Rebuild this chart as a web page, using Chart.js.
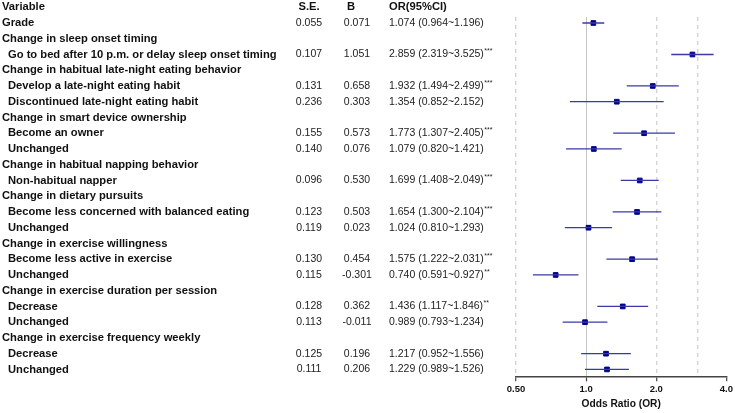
<!DOCTYPE html>
<html>
<head>
<meta charset="utf-8">
<script src="https://cdn.jsdelivr.net/npm/chart.js@4.4.1/dist/chart.umd.min.js"></script>
<style>
  html, body { margin: 0; padding: 0; background: #fff; }
</style>
</head>
<body>
<canvas id="forest" width="735" height="413"></canvas>
<script>
// table rows, top to bottom (header row drawn separately)
var rowLabels = [
  'Grade',
  'Change in sleep onset timing',
  'Go to bed after 10 p.m. or delay sleep onset timing',
  'Change in habitual late-night eating behavior',
  'Develop a late-night eating habit',
  'Discontinued late-night eating habit',
  'Change in smart device ownership',
  'Become an owner',
  'Unchanged',
  'Change in habitual napping behavior',
  'Non-habitual napper',
  'Change in dietary pursuits',
  'Become less concerned with balanced eating',
  'Unchanged',
  'Change in exercise willingness',
  'Become less active in exercise',
  'Unchanged',
  'Change in exercise duration per session',
  'Decrease',
  'Unchanged',
  'Change in exercise frequency weekly',
  'Decrease',
  'Unchanged'
];
// 0 = top level, 1 = sub item
var rowLevel = [0, 0, 1, 0, 1, 1, 0, 1, 1, 0, 1, 0, 1, 1, 0, 1, 1, 0, 1, 1, 0, 1, 1];

var seValues = [0.055, null, 0.107, null, 0.131, 0.236, null, 0.155, 0.140, null, 0.096, null, 0.123, 0.119, null, 0.130, 0.115, null, 0.128, 0.113, null, 0.125, 0.111];
var bValues  = [0.071, null, 1.051, null, 0.658, 0.303, null, 0.573, 0.076, null, 0.530, null, 0.503, 0.023, null, 0.454, -0.301, null, 0.362, -0.011, null, 0.196, 0.206];
var orValues = [1.074, null, 2.859, null, 1.932, 1.354, null, 1.773, 1.079, null, 1.699, null, 1.654, 1.024, null, 1.575, 0.740, null, 1.436, 0.989, null, 1.217, 1.229];
var ciLow    = [0.964, null, 2.319, null, 1.494, 0.852, null, 1.307, 0.820, null, 1.408, null, 1.300, 0.810, null, 1.222, 0.591, null, 1.117, 0.793, null, 0.952, 0.989];
var ciHigh   = [1.196, null, 3.525, null, 2.499, 2.152, null, 2.405, 1.421, null, 2.049, null, 2.104, 1.293, null, 2.031, 0.927, null, 1.846, 1.234, null, 1.556, 1.526];
var sigStars = ['', null, '***', null, '***', '', null, '***', '', null, '***', null, '***', '', null, '***', '**', null, '**', '', null, '', ''];

var headers = ['Variable', 'S.E.', 'B', 'OR(95%CI)'];
var tickValues = [0.5, 1, 2, 3, 4];
var tickLabels = ['0.50', '1.0', '2.0', '', '4.0'];

var FONT = '"Liberation Sans", Arial, Helvetica, sans-serif';

// one line dataset per confidence interval
var datasets = [];
orValues.forEach(function(v, i) {
  if (v === null) return;
  datasets.push({
    type: 'scatter',
    showLine: true,
    data: [{x: ciLow[i], y: i + 1}, {x: ciHigh[i], y: i + 1}],
    borderColor: '#3a3aa6',
    borderWidth: 1.3,
    pointRadius: 0
  });
});
// point estimates on top
datasets.push({
  type: 'scatter',
  data: orValues.map(function(v, i) { return v === null ? null : {x: v, y: i + 1}; }).filter(function(p) { return p; }),
  pointStyle: 'rect',
  pointRadius: 3.3,
  backgroundColor: '#00008b',
  borderColor: '#00008b',
  borderWidth: 1
});

var fmt = function(v) { return v.toFixed(3); };

// draws the table to the left of the plot
var tablePlugin = {
  id: 'tableText',
  afterDraw: function(chart) {
    var ctx = chart.ctx;
    var y = chart.scales.y;
    ctx.save();
    ctx.textBaseline = 'middle';

    // header
    var hy = y.getPixelForValue(0);
    ctx.fillStyle = '#111';
    ctx.font = 'bold 11.2px ' + FONT;
    ctx.textAlign = 'left';
    ctx.fillText(headers[0], 2, hy);
    ctx.textAlign = 'center';
    ctx.fillText(headers[1], 309, hy);
    ctx.fillText(headers[2], 351, hy);
    ctx.textAlign = 'left';
    ctx.fillText(headers[3], 389, hy);

    rowLabels.forEach(function(label, i) {
      var py = y.getPixelForValue(i + 1);
      ctx.font = 'bold 11.2px ' + FONT;
      ctx.fillStyle = '#111';
      ctx.textAlign = 'left';
      ctx.fillText(label, rowLevel[i] ? 8 : 2, py);
      if (orValues[i] === null) return;

      ctx.font = '10.5px ' + FONT;
      ctx.fillStyle = '#222';
      ctx.textAlign = 'center';
      ctx.fillText(fmt(seValues[i]), 309, py);
      ctx.fillText(fmt(bValues[i]), 357, py);
      ctx.textAlign = 'left';
      var txt = fmt(orValues[i]) + ' (' + fmt(ciLow[i]) + '~' + fmt(ciHigh[i]) + ')';
      ctx.fillText(txt, 389, py);
      if (sigStars[i]) {
        var w = ctx.measureText(txt).width;
        ctx.font = '7px ' + FONT;
        ctx.fillText(sigStars[i], 389 + w + 0.5, py - 3);
      }
    });
    ctx.restore();
  }
};

new Chart(document.getElementById('forest'), {
  type: 'scatter',
  data: {datasets: datasets},
  options: {
    responsive: false,
    animation: false,
    devicePixelRatio: 1,
    layout: {padding: {left: 516, right: 8, top: 17, bottom: 3}},
    plugins: {legend: {display: false}, tooltip: {enabled: false}},
    scales: {
      x: {
        type: 'logarithmic',
        min: 0.5,
        max: 4,
        afterBuildTicks: function(scale) {
          scale.ticks = tickValues.map(function(v) { return {value: v}; });
        },
        ticks: {
          autoSkip: false,
          maxRotation: 0,
          padding: 2,
          color: '#111',
          font: {family: FONT, size: 9.5, weight: 'bold'},
          callback: function(v, i) { return tickLabels[i]; }
        },
        grid: {
          color: function(c) {
            if (!c.tick) return 'rgba(0,0,0,0)';
            if (c.tick.value === 1) return '#c4c4c4';
            if (c.tick.value === 4) return 'rgba(0,0,0,0)';
            return '#d4d4d4';
          },
          lineWidth: function(c) { return c.tick && c.tick.value === 1 ? 1 : 1.4; },
          tickColor: function(c) { return c.tick && c.tick.value === 3 ? 'rgba(0,0,0,0)' : '#444'; },
          tickWidth: 1.2,
          tickLength: 5,
          tickBorderDash: []
        },
        border: {
          color: '#444',
          width: 1.4,
          dash: function(c) { return c.tick && c.tick.value !== 1 ? [4, 4] : []; }
        },
        title: {
          display: true,
          text: 'Odds Ratio (OR)',
          color: '#111',
          font: {family: FONT, size: 10.2, weight: 'bold'},
          padding: {top: 1, bottom: 0}
        }
      },
      y: {
        type: 'linear',
        reverse: true,
        min: 0.62,
        max: 23.44,
        display: false
      }
    }
  },
  plugins: [tablePlugin]
});
</script>
</body>
</html>
